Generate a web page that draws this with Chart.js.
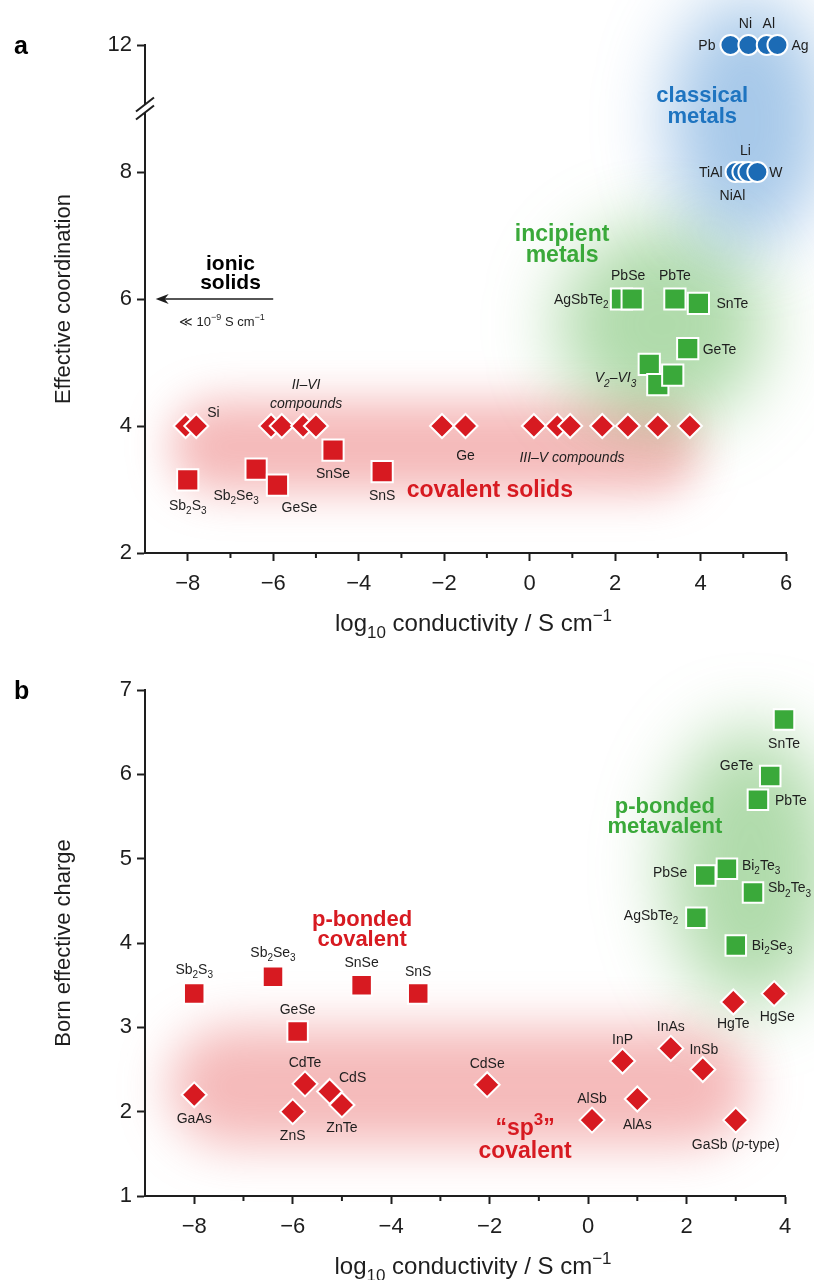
<!DOCTYPE html>
<html>
<head>
<meta charset="utf-8">
<script src="https://cdn.jsdelivr.net/npm/chart.js@4.4.1/dist/chart.umd.min.js"></script>
<style>
  body { margin: 0; background: #fff; }
  #wrap { width: 814px; height: 1280px; }
  canvas { display: block; }
</style>
</head>
<body>
<div id="wrap">
  <canvas id="chartA" width="814" height="640"></canvas>
  <canvas id="chartB" width="814" height="640"></canvas>
</div>
<script>
const RED = '#d71a21', GREEN = '#3aa93a', BLUE = '#1c6bb5', INK = '#1e1e1e';
const SANS = '"Liberation Sans", Arial, sans-serif';
const NARROW = '"Liberation Sans Narrow", "Liberation Sans", Arial, sans-serif';

// ---------- panel a : effective coordination ----------
const coordXTicks = [-8, -6, -4, -2, 0, 2, 4, 6];
const coordYTicks = [2, 4, 6, 8, 12];

const coordTetraNames = ['', 'Si', '', '', '', '', '', 'Ge', '', '', '', '', '', '', ''];
const coordTetraX = [-8.05, -7.8, -6.05, -5.8, -5.3, -5.0, -2.05, -1.5, 0.1, 0.65, 0.95, 1.7, 2.3, 3.0, 3.75];
const coordTetraY = [4, 4, 4, 4, 4, 4, 4, 4, 4, 4, 4, 4, 4, 4, 4];

const coordChalcNames = ['Sb_2S_3', 'Sb_2Se_3', 'GeSe', 'SnSe', 'SnS'];
const coordChalcX = [-8.0, -6.4, -5.9, -4.6, -3.45];
const coordChalcY = [3.15, 3.32, 3.07, 3.62, 3.28];

const coordIncipNames = ['AgSbTe_2', 'PbSe', 'PbTe', 'SnTe', 'GeTe', '*V_2–VI_3*', '', ''];
const coordIncipX = [2.15, 2.4, 3.4, 3.95, 3.7, 2.8, 3.0, 3.35];
const coordIncipY = [6.0, 6.0, 6.0, 5.93, 5.22, 4.97, 4.65, 4.8];

const coordMetalNames = ['Pb', 'Ni', 'Al', 'Ag', 'TiAl', 'NiAl', 'Li', 'W'];
const coordMetalX = [4.7, 5.12, 5.55, 5.8, 4.82, 4.98, 5.12, 5.33];
const coordMetalY = [12, 12, 12, 12, 8, 8, 8, 8];

// ---------- panel b : Born effective charge ----------
const bornXTicks = [-8, -6, -4, -2, 0, 2, 4];
const bornYTicks = [1, 2, 3, 4, 5, 6, 7];

const bornSp3Names = ['GaAs', 'ZnS', 'CdTe', 'CdS', 'ZnTe', 'CdSe', 'AlSb', 'InP', 'AlAs', 'InAs', 'InSb', 'HgTe', 'GaSb (*p*-type)', 'HgSe'];
const bornSp3X = [-8.0, -6.0, -5.75, -5.25, -5.0, -2.05, 0.08, 0.7, 1.0, 1.68, 2.33, 2.95, 3.0, 3.78];
const bornSp3Y = [2.2, 2.0, 2.33, 2.24, 2.08, 2.32, 1.9, 2.6, 2.15, 2.75, 2.5, 3.3, 1.9, 3.4];

const bornChalcNames = ['Sb_2S_3', 'Sb_2Se_3', 'GeSe', 'SnSe', 'SnS'];
const bornChalcX = [-8.0, -6.4, -5.9, -4.6, -3.45];
const bornChalcY = [3.4, 3.6, 2.95, 3.5, 3.4];

const bornMvNames = ['AgSbTe_2', 'PbSe', 'Bi_2Te_3', 'Bi_2Se_3', 'Sb_2Te_3', 'PbTe', 'GeTe', 'SnTe'];
const bornMvX = [2.2, 2.38, 2.82, 3.0, 3.35, 3.45, 3.7, 3.98];
const bornMvY = [4.3, 4.8, 4.88, 3.97, 4.6, 5.7, 5.98, 6.65];

// label offsets (px) from each marker: [dx, dy, align]
const coordLabelPos = {
  'Si': [11, -14, 'left'], 'Ge': [0, 29, 'center'],
  'Sb_2S_3': [0, 25, 'center'], 'Sb_2Se_3': [-20, 26, 'center'], 'GeSe': [22, 22, 'center'],
  'SnSe': [0, 23, 'center'], 'SnS': [0, 23, 'center'],
  'AgSbTe_2': [-13, 0, 'right'], 'PbSe': [-4, -24, 'center'], 'PbTe': [0, -24, 'center'],
  'SnTe': [18, 0, 'left'], 'GeTe': [15, 0, 'left'], '*V_2–VI_3*': [-13, 13, 'right'],
  'Pb': [-15, 0, 'right'], 'Ni': [-3, -22, 'center'], 'Al': [2, -22, 'center'], 'Ag': [14, 0, 'left'],
  'TiAl': [-13, 0, 'right'], 'NiAl': [-10, 23, 'center'], 'Li': [-3, -22, 'center'], 'W': [12, 0, 'left']
};
const bornLabelPos = {
  'GaAs': [0, 23, 'center'], 'ZnS': [0, 23, 'center'], 'CdTe': [0, -22, 'center'], 'CdS': [23, -14, 'center'],
  'ZnTe': [0, 22, 'center'], 'CdSe': [0, -22, 'center'], 'AlSb': [0, -22, 'center'], 'InP': [0, -22, 'center'],
  'AlAs': [0, 25, 'center'], 'InAs': [0, -22, 'center'], 'InSb': [1, -21, 'center'], 'HgTe': [0, 21, 'center'],
  'GaSb (*p*-type)': [0, 24, 'center'], 'HgSe': [3, 22, 'center'],
  'Sb_2S_3': [0, -25, 'center'], 'Sb_2Se_3': [0, -25, 'center'], 'GeSe': [0, -23, 'center'],
  'SnSe': [0, -23, 'center'], 'SnS': [0, -23, 'center'],
  'AgSbTe_2': [-18, -3, 'right'], 'PbSe': [-18, -4, 'right'], 'Bi_2Te_3': [15, -4, 'left'],
  'Bi_2Se_3': [16, -1, 'left'], 'Sb_2Te_3': [15, -5, 'left'], 'PbTe': [17, 0, 'left'],
  'GeTe': [-17, -11, 'right'], 'SnTe': [0, 23, 'center']
};

// axis break on panel a: 12 sits where 10 would be
const brk = v => v > 9 ? v - 2 : v;
const minus = v => (v < 0 ? '\u2212' + Math.abs(v) : String(v));

// tiny markup: _x / _{..} subscript, ^{..} superscript, *..* italic
function parseRich(str) {
  const segs = [];
  let italic = false, i = 0;
  while (i < str.length) {
    const c = str[i];
    if (c === '*') { italic = !italic; i++; continue; }
    if (c === '_' || c === '^') {
      let t;
      if (str[i + 1] === '{') { const j = str.indexOf('}', i); t = str.slice(i + 2, j); i = j + 1; }
      else { t = str[i + 1]; i += 2; }
      segs.push({ t, mode: c === '_' ? 'sub' : 'sup', italic });
      continue;
    }
    let j = i;
    while (j < str.length && !'*_^'.includes(str[j])) j++;
    segs.push({ t: str.slice(i, j), mode: 'n', italic });
    i = j;
  }
  return segs;
}

function drawRich(ctx, str, x, y, o) {
  const size = o.size || 14, fam = o.family || SANS, wt = o.weight || 'normal';
  const segs = parseRich(str);
  const fontOf = s => `${s.italic ? 'italic ' : ''}${wt} ${s.mode === 'n' ? size : Math.round(size * 0.72)}px ${fam}`;
  let w = 0;
  segs.forEach(s => { ctx.font = fontOf(s); s.w = ctx.measureText(s.t).width; w += s.w; });
  let cx = o.align === 'right' ? x - w : (o.align === 'left' ? x : x - w / 2);
  ctx.fillStyle = o.color || INK;
  ctx.textAlign = 'left';
  ctx.textBaseline = 'alphabetic';
  const base = y + size * 0.36;
  segs.forEach(s => {
    ctx.font = fontOf(s);
    const dy = s.mode === 'sub' ? size * 0.3 : (s.mode === 'sup' ? -size * 0.42 : 0);
    ctx.fillText(s.t, cx, base + dy);
    cx += s.w;
  });
}

function series(names, xs, ys, style, yMap) {
  return Object.assign({
    data: xs.map((x, i) => ({ x, y: yMap ? yMap(ys[i]) : ys[i] })),
    names,
    borderColor: '#fff',
    borderWidth: 2,
    clip: false
  }, style);
}

const diamond = (r, c) => ({ pointStyle: 'rectRot', pointRadius: r, backgroundColor: c });
const square = (r, c) => ({ pointStyle: 'rect', pointRadius: r, backgroundColor: c });
const circle = (r, c) => ({ pointStyle: 'circle', pointRadius: r, backgroundColor: c });

function figurePlugin(spec) {
  return {
    id: 'fig' + spec.letter,
    beforeDraw(chart) {
      const ctx = chart.ctx, xs = chart.scales.x, ys = chart.scales.y;
      spec.blobs.forEach(b => {
        ctx.save();
        ctx.filter = `blur(${b.blur}px)`;
        ctx.fillStyle = b.color;
        ctx.beginPath();
        if (b.band) {
          const x1 = xs.getPixelForValue(b.band[0]), x2 = xs.getPixelForValue(b.band[1]);
          const y1 = ys.getPixelForValue(b.band[2]), y2 = ys.getPixelForValue(b.band[3]);
          ctx.roundRect(x1, y1, x2 - x1, y2 - y1, (y2 - y1) / 2);
        } else {
          ctx.ellipse(xs.getPixelForValue(b.at[0]), ys.getPixelForValue(b.at[1]), b.rx, b.ry, 0, 0, Math.PI * 2);
        }
        ctx.fill();
        ctx.restore();
      });
    },
    afterDraw(chart) {
      const ctx = chart.ctx, xs = chart.scales.x, ys = chart.scales.y, area = chart.chartArea;
      ctx.save();
      // minor ticks on the odd decades
      ctx.strokeStyle = INK;
      ctx.lineWidth = 2;
      for (let v = xs.min + 1; v <= xs.max; v++) {
        if (v % 2 === 0) continue;
        const px = xs.getPixelForValue(v);
        ctx.beginPath(); ctx.moveTo(px, area.bottom); ctx.lineTo(px, area.bottom + 5); ctx.stroke();
      }
      // axis break
      if (spec.breakAt) {
        const by = ys.getPixelForValue(spec.breakAt), bx = area.left;
        ctx.fillStyle = '#fff';
        ctx.fillRect(bx - 3, by - 4, 6, 8);
        ctx.lineWidth = 2;
        [-4, 4].forEach(o => {
          ctx.beginPath(); ctx.moveTo(bx - 9, by + o + 7); ctx.lineTo(bx + 9, by + o - 7); ctx.stroke();
        });
      }
      // arrows
      (spec.arrows || []).forEach(a => {
        const x1 = xs.getPixelForValue(a.from), x2 = xs.getPixelForValue(a.to), y = ys.getPixelForValue(a.y);
        ctx.strokeStyle = INK; ctx.fillStyle = INK; ctx.lineWidth = 1.6;
        ctx.beginPath(); ctx.moveTo(x1, y); ctx.lineTo(x2 + 6, y); ctx.stroke();
        ctx.beginPath(); ctx.moveTo(x2, y); ctx.lineTo(x2 + 13, y - 5); ctx.lineTo(x2 + 9, y); ctx.lineTo(x2 + 13, y + 5); ctx.closePath(); ctx.fill();
      });
      // point labels
      chart.data.datasets.forEach((ds, di) => {
        const meta = chart.getDatasetMeta(di);
        ds.names.forEach((n, i) => {
          if (!n) return;
          const p = spec.labelPos[n] || [0, -20, 'center'];
          const el = meta.data[i];
          drawRich(ctx, n, el.x + p[0], el.y + p[1], { size: 14, align: p[2], color: INK });
        });
      });
      // region names and notes
      spec.notes.forEach(n => {
        drawRich(ctx, n.t, xs.getPixelForValue(n.x), ys.getPixelForValue(spec.yMap(n.y)),
          { size: n.size, weight: n.weight, color: n.color, align: 'center' });
      });
      // x title
      drawRich(ctx, 'log_{10} conductivity / S cm^{\u22121}', (area.left + area.right) / 2 + 8, area.bottom + 69,
        { size: 24, family: NARROW, color: INK, align: 'center' });
      // panel letter
      drawRich(ctx, spec.letter, 14, area.top, { size: 25, weight: 'bold', color: '#000', align: 'left' });
      ctx.restore();
    }
  };
}

function makeChart(id, o) {
  return new Chart(document.getElementById(id), {
    type: 'scatter',
    data: { datasets: o.datasets },
    options: {
      responsive: false,
      animation: false,
      devicePixelRatio: 1,
      events: [],
      layout: { padding: o.padding },
      plugins: { legend: { display: false }, tooltip: { enabled: false } },
      scales: {
        x: {
          type: 'linear', min: o.xMin, max: o.xMax,
          afterFit: s => { s.height = o.xAxisHeight; },
          border: { display: true, color: INK, width: 2 },
          grid: {
            drawOnChartArea: false, drawTicks: true, tickLength: 8, tickWidth: 2,
            tickColor: c => (c.tick && o.xTicks.includes(c.tick.value) ? INK : 'rgba(0,0,0,0)')
          },
          ticks: {
            stepSize: 1, autoSkip: false, maxRotation: 0, padding: 10, color: INK,
            font: { family: NARROW, size: 22 },
            callback: v => (o.xTicks.includes(v) ? minus(v) : '')
          }
        },
        y: {
          type: 'linear', min: o.yMin, max: o.yMax,
          afterFit: s => { s.width = 145; },
          border: { display: true, color: INK, width: 2 },
          grid: { drawOnChartArea: false, drawTicks: true, tickLength: 8, tickWidth: 2, tickColor: INK },
          ticks: {
            stepSize: o.yStep, autoSkip: false, padding: 5, color: INK,
            font: { family: NARROW, size: 22 },
            callback: v => {
              const t = o.yTicks.find(k => o.yMap(k) === v);
              return t === undefined ? '' : String(t);
            }
          },
          title: {
            display: true, text: o.yTitle, color: INK,
            font: { family: SANS, size: 22 }, padding: { top: 51, bottom: 0 }
          }
        }
      }
    },
    plugins: [figurePlugin(o.spec)]
  });
}

makeChart('chartA', {
  xMin: -9, xMax: 6, yMin: 2, yMax: 10, yStep: 2,
  xTicks: coordXTicks, yTicks: coordYTicks, yMap: brk,
  padding: { top: 45, right: 28, left: 0, bottom: 0 }, xAxisHeight: 87,
  yTitle: 'Effective coordination',
  datasets: [
    series(coordTetraNames, coordTetraX, coordTetraY, diamond(12, RED), brk),
    series(coordChalcNames, coordChalcX, coordChalcY, square(15, RED), brk),
    series(coordIncipNames, coordIncipX, coordIncipY, square(15, GREEN), brk),
    series(coordMetalNames, coordMetalX, coordMetalY, circle(10, BLUE), brk)
  ],
  spec: {
    letter: 'a', breakAt: 9, yMap: brk, labelPos: coordLabelPos,
    arrows: [{ from: -6.0, to: -8.75, y: 6 }],
    blobs: [
      { band: [-8.4, 4.0, 4.4, 2.95], color: 'rgba(232,90,90,0.42)', blur: 22 },
      { at: [3.1, 5.6], rx: 105, ry: 100, color: 'rgba(90,180,80,0.48)', blur: 35 },
      { at: [5.1, 8.8], rx: 80, ry: 125, color: 'rgba(70,140,210,0.48)', blur: 35 }
    ],
    notes: [
      { t: '*II–VI*', x: -5.23, y: 4.66, size: 14 },
      { t: '*compounds*', x: -5.23, y: 4.36, size: 14 },
      { t: '*III–V compounds*', x: 0.99, y: 3.51, size: 14 },
      { t: 'covalent solids', x: -0.93, y: 3.02, size: 23, weight: 'bold', color: RED },
      { t: 'ionic', x: -7.0, y: 6.58, size: 21, weight: 'bold', color: '#000' },
      { t: 'solids', x: -7.0, y: 6.27, size: 21, weight: 'bold', color: '#000' },
      { t: '\u226A 10^{\u22129} S cm^{\u22121}', x: -7.2, y: 5.65, size: 13 },
      { t: 'incipient', x: 0.76, y: 7.04, size: 23, weight: 'bold', color: GREEN },
      { t: 'metals', x: 0.76, y: 6.71, size: 23, weight: 'bold', color: GREEN },
      { t: 'classical', x: 4.04, y: 11.23, size: 22, weight: 'bold', color: '#1e74c0' },
      { t: 'metals', x: 4.04, y: 8.9, size: 22, weight: 'bold', color: '#1e74c0' }
    ]
  }
});

makeChart('chartB', {
  xMin: -9, xMax: 4, yMin: 1, yMax: 7, yStep: 1,
  xTicks: bornXTicks, yTicks: bornYTicks, yMap: v => v,
  padding: { top: 50, right: 29, left: 0, bottom: 0 }, xAxisHeight: 84,
  yTitle: 'Born effective charge',
  datasets: [
    series(bornSp3Names, bornSp3X, bornSp3Y, diamond(12.5, RED)),
    series(bornChalcNames, bornChalcX, bornChalcY, square(14.5, RED)),
    series(bornMvNames, bornMvX, bornMvY, square(14.5, GREEN))
  ],
  spec: {
    letter: 'b', yMap: v => v, labelPos: bornLabelPos,
    blobs: [
      { band: [-8.5, 3.3, 3.0, 1.6], color: 'rgba(232,90,90,0.42)', blur: 25 },
      { at: [3.3, 4.9], rx: 85, ry: 140, color: 'rgba(90,180,80,0.48)', blur: 35 }
    ],
    notes: [
      { t: 'p-bonded', x: -4.59, y: 4.30, size: 22, weight: 'bold', color: RED },
      { t: 'covalent', x: -4.59, y: 4.06, size: 22, weight: 'bold', color: RED },
      { t: 'p-bonded', x: 1.56, y: 5.64, size: 22, weight: 'bold', color: GREEN },
      { t: 'metavalent', x: 1.56, y: 5.40, size: 22, weight: 'bold', color: GREEN },
      { t: '\u201Csp^3\u201D', x: -1.28, y: 1.82, size: 23, weight: 'bold', color: RED },
      { t: 'covalent', x: -1.28, y: 1.55, size: 23, weight: 'bold', color: RED }
    ]
  }
});
</script>
</body>
</html>
